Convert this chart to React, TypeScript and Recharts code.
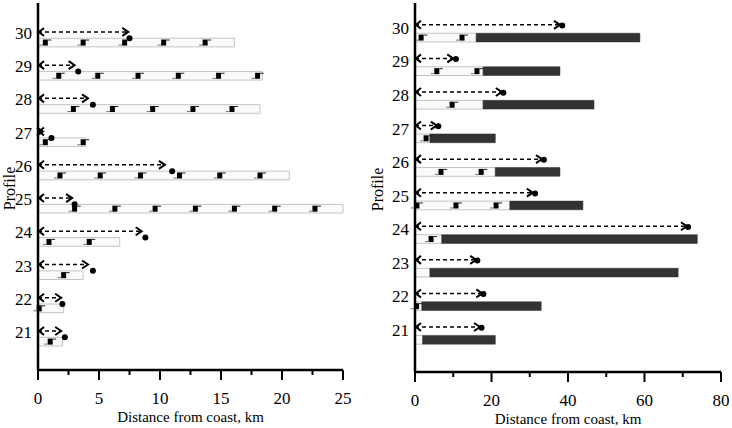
import { ComposedChart, XAxis, YAxis, Scatter, ReferenceArea, ReferenceLine, Label } from 'recharts'

const FONT = '"Liberation Serif", "Times New Roman", Times, serif'

const profiles = [21, 22, 23, 24, 25, 26, 27, 28, 29, 30]

// left panel, 0-25 km (values per profile 21..30)
const leftArrow = [1.9, 1.9, 4.1, 8.5, 2.8, 10.4, 0.4, 4.1, 3.0, 7.4]
const leftCircle = [2.2, 2.0, 4.5, 8.8, 3.0, 11.0, 1.1, 4.5, 3.3, 7.5]
const leftBar = [2.0, 2.1, 3.7, 6.7, 25.0, 20.6, 3.9, 18.2, 18.4, 16.1]
const leftMarks = [
  [1.0],
  [0.1],
  [2.1],
  [0.9, 4.2],
  [3.0, 6.3, 9.6, 12.9, 16.1, 19.4, 22.7],
  [1.8, 5.1, 8.4, 11.6, 14.9, 18.2],
  [0.6, 3.7],
  [2.9, 6.1, 9.4, 12.7, 15.9],
  [1.7, 4.9, 8.2, 11.5, 14.8, 18.0],
  [0.6, 3.7, 7.1, 10.3, 13.7],
]
const leftTicks = [0, 2.5, 5, 7.5, 10, 12.5, 15, 17.5, 20, 22.5, 25]

// right panel, 0-80 km
const rightArrow = [17.0, 17.6, 16.0, 71.1, 30.8, 33.2, 5.7, 22.7, 10.0, 37.9]
const rightCircle = [17.4, 17.9, 16.3, 71.4, 31.4, 33.7, 6.1, 23.1, 10.7, 38.5]
const rightLight = [2.0, 1.8, 3.9, 7.0, 24.8, 21.0, 3.9, 17.8, 17.8, 16.0]
const rightDark = [21.0, 33.0, 68.8, 73.8, 43.9, 37.9, 21.0, 46.8, 37.9, 58.8]
const rightMarks = [[], [0.4], [], [4.2], [0.5, 10.7, 21.2], [6.8, 17.3], [2.9], [9.7], [5.7, 16.2], [1.6, 12.3]]
const rightTicks = [0, 10, 20, 30, 40, 50, 60, 70, 80]

function ArrowHead(props: any) {
  const { cx, cy, payload } = props
  const d =
    payload.side === 'start'
      ? `M${cx + 6},${cy - 4} L${cx + 1},${cy} L${cx + 6},${cy + 4}`
      : `M${cx - 6},${cy - 4} L${cx},${cy} L${cx - 6},${cy + 4}`
  return <path d={d} fill="none" stroke="#000" strokeWidth={2} />
}

function Dot(props: any) {
  return <circle cx={props.cx} cy={props.cy} r={3} fill="#000" />
}

function StepMark(props: any) {
  const { cx, cy } = props
  return (
    <g>
      <rect x={cx - 2.5} y={cy - 3} width={5} height={6} fill="#000" />
      <line x1={cx + 2.5} y1={cy - 2.5} x2={cx + 6} y2={cy - 2.5} stroke="#222" strokeWidth={1} />
      <line x1={cx - 6} y1={cy + 2.5} x2={cx - 2.5} y2={cy + 2.5} stroke="#555" strokeWidth={0.8} />
    </g>
  )
}

function YTick(t: any) {
  return (
    <text x={t.x} y={t.y} dy="0.355em" textAnchor="end" fontSize={17} style={{ fontFamily: FONT }} fill="#000">
      {t.payload.value}
    </text>
  )
}

interface PanelProps {
  xMax: number
  ticks: number[]
  major: number
  yDomain: [number, number]
  yAxisWidth: number
  marginRight: number
  xAxisHeight: number
  titleX: number
  arrowOff: number
  circleOff: number
  arrow: number[]
  circle: number[]
  light: number[]
  dark?: number[]
  marks: number[][]
}

function Panel(p: PanelProps) {
  const arrowPts = profiles.flatMap((pr, i) => [
    { x: 0, y: pr + p.arrowOff, side: 'start' },
    { x: p.arrow[i], y: pr + p.arrowOff, side: 'end' },
  ])
  const circlePts = profiles.map((pr, i) => ({ x: p.circle[i], y: pr + p.circleOff }))
  const markPts = profiles.flatMap((pr, i) => p.marks[i].map((m) => ({ x: m, y: pr - 0.29 })))

  const XTick = (t: any) => {
    const isMajor = t.payload.value % p.major === 0
    return (
      <g>
        <line x1={t.x} x2={t.x} y1={t.y} y2={t.y + (isMajor ? 10 : 5)} stroke="#000" strokeWidth={2} />
        {isMajor && (
          <text x={t.x} y={t.y + 34} textAnchor="middle" fontSize={17} style={{ fontFamily: FONT }} fill="#000">
            {t.payload.value}
          </text>
        )}
      </g>
    )
  }

  return (
    <ComposedChart
      width={366}
      height={428}
      margin={{ top: 3, right: p.marginRight, bottom: 0, left: 0 }}
    >
      <XAxis
        type="number"
        dataKey="x"
        domain={[0, p.xMax]}
        ticks={p.ticks}
        interval={0}
        tickSize={0}
        tickMargin={0}
        tickLine={false}
        tick={XTick}
        height={p.xAxisHeight}
        axisLine={{ stroke: '#000', strokeWidth: 2.5 }}
      >
        <Label
          content={(lp: any) => {
            const vb = lp.viewBox
            return (
              <text x={vb.x + vb.width / 2} y={vb.y + 52} textAnchor="middle" fontSize={15} style={{ fontFamily: FONT }} fill="#000">
                Distance from coast, km
              </text>
            )
          }}
        />
      </XAxis>
      <YAxis
        type="number"
        dataKey="y"
        domain={p.yDomain}
        allowDataOverflow
        ticks={profiles}
        interval={0}
        width={p.yAxisWidth}
        tickLine={false}
        tickSize={4}
        tickMargin={2}
        tick={YTick}
        axisLine={{ stroke: '#000', strokeWidth: 2.5 }}
      >
        <Label
          content={(lp: any) => {
            const vb = lp.viewBox
            const cx = vb.x + p.titleX
            const cy = vb.y + vb.height / 2 + 2
            return (
              <text x={cx} y={cy} transform={`rotate(-90 ${cx} ${cy})`} textAnchor="middle" fontSize={16} style={{ fontFamily: FONT }} fill="#000">
                Profile
              </text>
            )
          }}
        />
      </YAxis>

      {profiles.map((pr, i) => (
        <ReferenceArea
          key={'l' + pr}
          x1={0}
          x2={p.light[i]}
          y1={pr - 0.42}
          y2={pr - 0.16}
          fill="#fafafa"
          fillOpacity={1}
          stroke="#c4c4c4"
          strokeWidth={1}
          ifOverflow="visible"
        />
      ))}
      {p.dark &&
        profiles.map((pr, i) => (
          <ReferenceArea
            key={'d' + pr}
            x1={p.light[i]}
            x2={p.dark![i]}
            y1={pr - 0.42}
            y2={pr - 0.16}
            fill="#333"
            fillOpacity={1}
            stroke="#2a2a2a"
            strokeWidth={0.5}
            ifOverflow="visible"
          />
        ))}
      {profiles.map((pr, i) => (
        <ReferenceLine
          key={'a' + pr}
          segment={[
            { x: 0, y: pr + p.arrowOff },
            { x: p.arrow[i], y: pr + p.arrowOff },
          ]}
          stroke="#000"
          strokeWidth={1.5}
          strokeDasharray="4 3"
          ifOverflow="visible"
        />
      ))}

      <Scatter data={arrowPts} shape={ArrowHead} isAnimationActive={false} />
      <Scatter data={markPts} shape={StepMark} isAnimationActive={false} />
      <Scatter data={circlePts} shape={Dot} isAnimationActive={false} />
    </ComposedChart>
  )
}

export default function App() {
  return (
    <div style={{ position: 'fixed', left: 0, top: 0, width: 732, height: 428, background: '#fff', overflow: 'hidden', fontFamily: FONT }}>
      <div style={{ position: 'absolute', left: 0, top: 0 }}>
        <Panel
          xMax={25}
          ticks={leftTicks}
          major={5}
          yDomain={[19.855, 30.9]}
          yAxisWidth={38}
          marginRight={23}
          xAxisHeight={58}
          titleX={15}
          arrowOff={0.03}
          circleOff={-0.16}
          arrow={leftArrow}
          circle={leftCircle}
          light={leftBar}
          marks={leftMarks}
        />
      </div>
      <div style={{ position: 'absolute', left: 366, top: 0 }}>
        <Panel
          xMax={80}
          ticks={rightTicks}
          major={20}
          yDomain={[19.75, 30.74]}
          yAxisWidth={49}
          marginRight={11}
          xAxisHeight={56}
          titleX={17}
          arrowOff={0.09}
          circleOff={0.07}
          arrow={rightArrow}
          circle={rightCircle}
          light={rightLight}
          dark={rightDark}
          marks={rightMarks}
        />
      </div>
    </div>
  )
}
